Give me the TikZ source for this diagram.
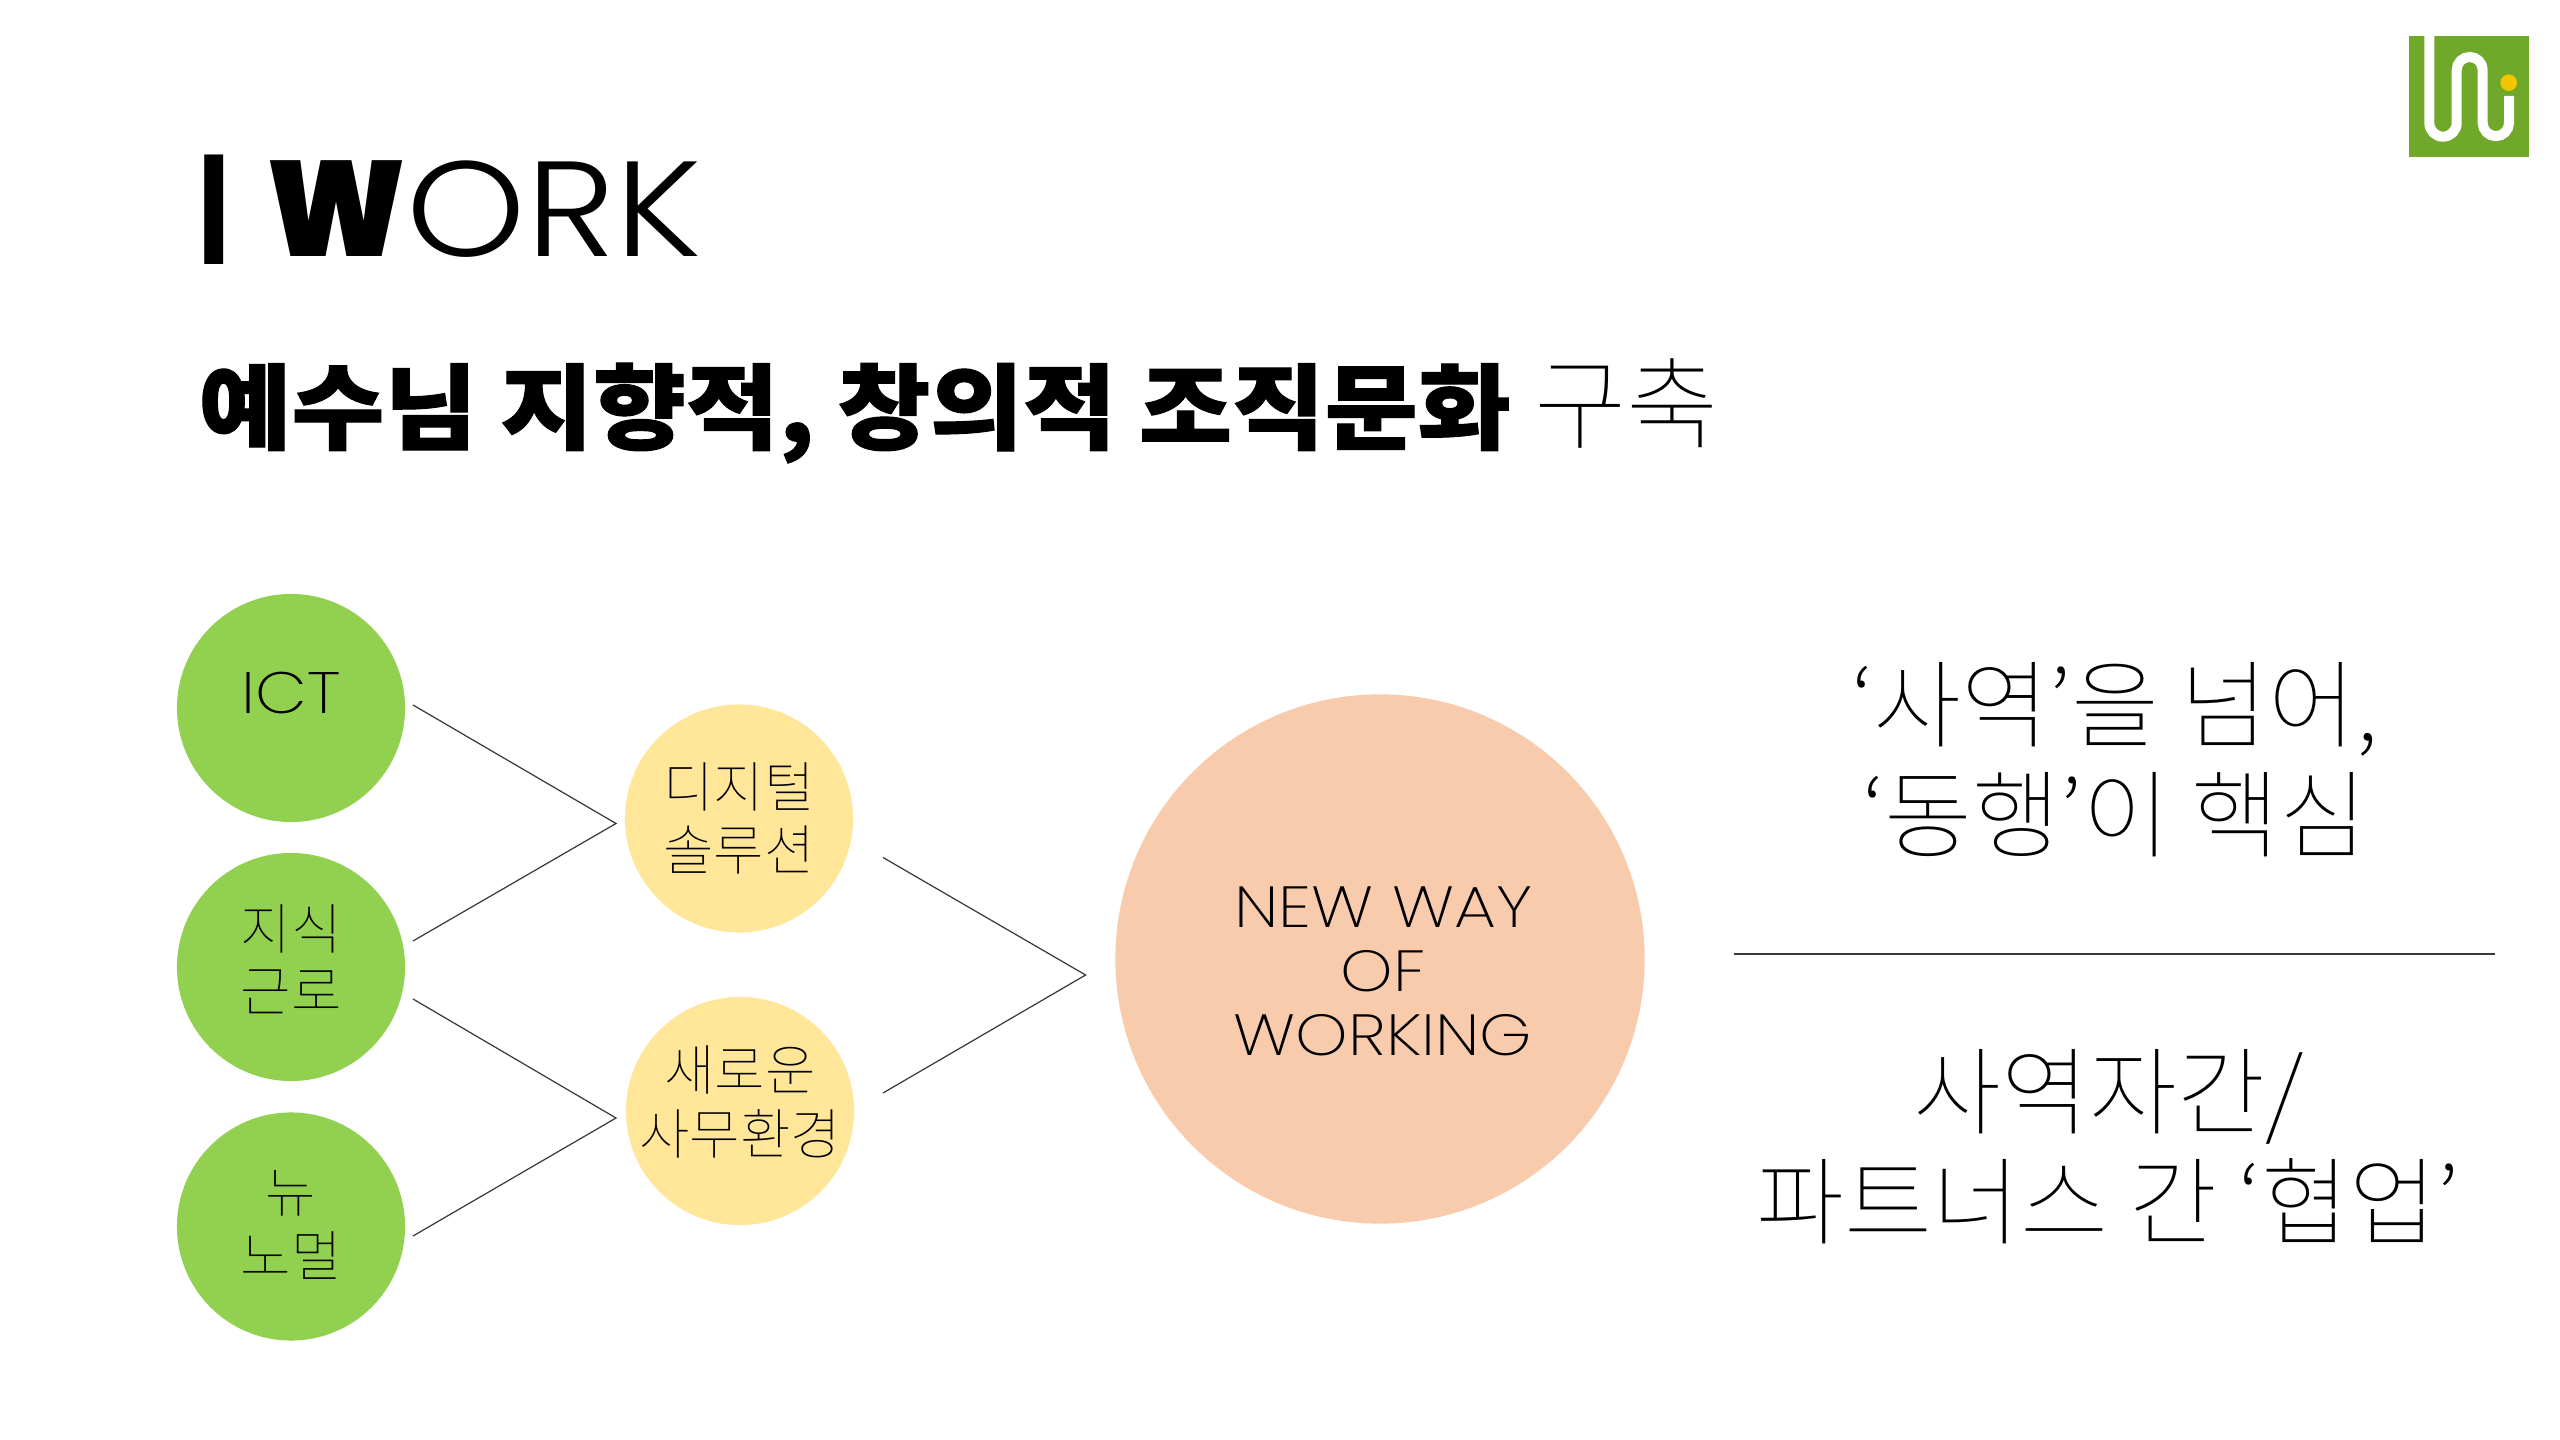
\documentclass[tikz,border=0pt]{standalone}
\usepackage{fontspec}
\newfontfamily\krthin{Noto Sans CJK KR Thin}
\newfontfamily\krblack[FakeBold=1.2,FakeStretch=1.083]{Noto Sans CJK KR Black}
\newfontfamily\latlight[FakeStretch=1.12]{Poppins Light}
\newfontfamily\latblack[FakeStretch=0.94]{Poppins Black}
\newfontfamily\latbar[FakeStretch=0.55]{Poppins Black}
\newfontfamily\latthin[FakeStretch=1.15]{Poppins ExtraLight}
\definecolor{leaf}{HTML}{92D050}
\definecolor{butter}{HTML}{FFE699}
\definecolor{peach}{HTML}{F8CBAD}
\definecolor{logogreen}{HTML}{70A82A}
\definecolor{logodot}{HTML}{F2C500}
\definecolor{rulegrey}{HTML}{3A3A3A}
\newcommand{\lift}[2]{\raisebox{#1}[\height][\depth]{\makebox[0pt]{\begin{tabular}{@{}c@{}}#2\end{tabular}}}}
\tikzset{
  x=0.01cm,y=-0.01cm,
  disc/.style={circle,inner sep=0pt,text=black,font=\krthin\fontsize{15.6}{17.7}\selectfont},
  greendisc/.style={disc,fill=leaf,minimum size=2.28cm},
  yellowdisc/.style={disc,fill=butter,minimum size=2.28cm},
  peachdisc/.style={disc,fill=peach,minimum size=5.29cm},
  chevron/.style={draw=rulegrey,line width=0.35pt},
  sidetext/.style={align=center,inner sep=0pt,font=\krthin\fontsize{27.2}{31.2}\selectfont},
}
\begin{document}
\begin{tikzpicture}
\useasboundingbox (0,0) rectangle (2560,1440);
\fill[white] (0,0) rectangle (2560,1440);
% logo
\fill[logogreen] (2409,36) rectangle (2529,157);
\draw[white,line width=10*0.2845pt]
 (2429.3,36) -- (2429.3,123) arc[start angle=180,end angle=0,radius=13.7] -- (2456.7,70)
 arc[start angle=180,end angle=360,radius=13] -- (2482.7,123)
 arc[start angle=180,end angle=0,radius=13.15] -- (2509,96);
\fill[logodot] (2508.7,82.7) circle[radius=8.3];
% title
\node[inner sep=0pt,anchor=center,font=\latbar\fontsize{44}{44}\selectfont] (bar) at (214,210) {I};
\node[inner sep=0pt,anchor=base west,font=\fontsize{38.5}{38.5}\selectfont] (title) at (266,257) {{\latblack W}{\latlight ORK}};
\node[inner sep=0pt,anchor=base west] (head) at (198,442) {\fontsize{26.5}{30}\selectfont{\krblack 예수님 지향적, 창의적 조직문화}\hspace{6.7pt}{\fontsize{28.5}{30}\selectfont\krthin 구축}};
% discs
\node[greendisc] (ict) at (291,708) {\lift{2.1pt}{{\latthin\fontsize{16.6}{18}\selectfont ICT}}};
\node[greendisc] (know) at (291,967) {\lift{-0.2pt}{지식\\근로}};
\node[greendisc] (newn) at (291,1226.5) {\lift{-1.6pt}{뉴\\노멀}};
\node[yellowdisc] (digi) at (739,818.5) {\lift{-2.2pt}{디지털\\솔루션}};
\node[yellowdisc] (office) at (740,1111) {\lift{0.4pt}{새로운\\사무환경}};
\node[peachdisc,font=\latthin\fontsize{16.5}{18.1}\selectfont] (nwow) at (1380,959) {\hspace*{1.8pt}\lift{-5.6pt}{NEW WAY\\OF\\WORKING}};
% connector ends
\coordinate (a1) at (413,705);
\coordinate (a2) at (616,823.5);
\coordinate (a3) at (413,941);
\coordinate (b1) at (413,999);
\coordinate (b2) at (616,1118);
\coordinate (b3) at (413,1236);
\coordinate (c1) at (883,857.5);
\coordinate (c2) at (1085.6,975);
\coordinate (c3) at (883,1093);
\draw[chevron] (a1) -- (a2) -- (a3);
\draw[chevron] (b1) -- (b2) -- (b3);
\draw[chevron] (c1) -- (c2) -- (c3);
% right
\node[sidetext] (t1) at (2115,760) {‘사역’을 넘어,\\‘동행’이 핵심};
\coordinate (r1) at (1734,954);
\coordinate (r2) at (2495,954);
\draw[chevron] (r1) -- (r2);
\node[sidetext] (t2) at (2108,1147) {사역자간/\\파트너스 간 ‘협업’};
\end{tikzpicture}
\end{document}
